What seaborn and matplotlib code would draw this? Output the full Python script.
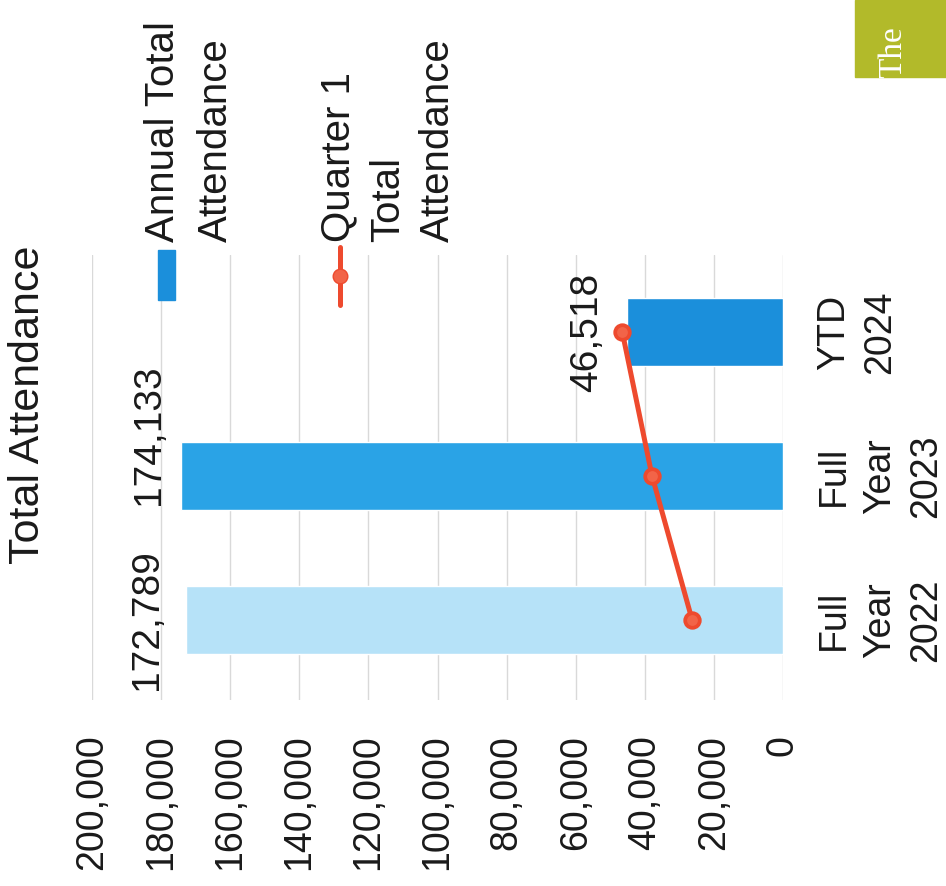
import matplotlib
matplotlib.use("Agg")
import matplotlib.pyplot as plt
import seaborn as sns
import pandas as pd
from matplotlib.patches import Rectangle
from matplotlib.lines import Line2D

# ---- data ----
categories = ["YTD 2024", "Full Year 2023", "Full Year 2022"]
tick_labels = ["YTD\n2024", "Full\nYear\n2023", "Full\nYear\n2022"]
annual_total = [45200, 174133, 172789]
q1_total = [46518, 37900, 26300]
bar_label_text = ["172,789", "174,133"]
line_label_text = "46,518"
x_ticks = [0, 20000, 40000, 60000, 80000, 100000, 120000, 140000, 160000, 180000, 200000]

bar_colors = {"YTD 2024": "#1B8FDB", "Full Year 2023": "#2AA3E6", "Full Year 2022": "#B6E2F8"}
red = "#EE4A2E"
txt = "#1A1A1A"
FS = 27

sns.set_theme(style="white")
plt.rcParams["font.family"] = ["Liberation Sans", "DejaVu Sans"]

W, H = 946, 886
fig = plt.figure(figsize=(W / 100, H / 100), dpi=100)
fig.patch.set_facecolor("white")
ax = fig.add_axes([92 / W, 1 - 700 / H, 691 / W, 445 / H])

df = pd.DataFrame({"cat": categories, "annual": annual_total, "q1": q1_total})

sns.barplot(data=df, x="annual", y="cat", order=categories, hue="cat",
            palette=bar_colors, legend=False, orient="h", width=0.47,
            saturation=1, ax=ax, zorder=2)
sns.pointplot(data=df, x="q1", y="cat", order=categories, orient="h",
              color=red, markers="o", linestyles="-", errorbar=None,
              markersize=10.5, linewidth=3.6, ax=ax)
for ln in ax.lines:
    ln.set_markerfacecolor("#F26448")
    ln.set_markeredgecolor(red)
    ln.set_zorder(4)

ax.set_xlim(200000, 0)
ax.set_ylim(2.556, -0.535)
ax.set_xticks(x_ticks)
ax.set_xticklabels([f"{v:,}" for v in x_ticks], rotation=90, fontsize=FS,
                   color=txt, va="top", ha="center")
ax.tick_params(axis="x", length=0, pad=25)
ax.yaxis.tick_right()
ax.set_yticks(range(len(categories)))
ax.set_yticklabels(tick_labels, rotation=90, fontsize=FS, color=txt,
                   va="center", ha="left", multialignment="center",
                   linespacing=1.36)
ax.tick_params(axis="y", length=0, pad=24)
ax.set_xlabel("")
ax.set_ylabel("")
for s in ax.spines.values():
    s.set_visible(False)
ax.grid(axis="x", color="#D9D9D9", linewidth=1)
ax.grid(axis="y", visible=False)
ax.set_axisbelow(True)

# data labels
ax.annotate(bar_label_text[0], xy=(annual_total[2], 2), xytext=(-28, 0),
            textcoords="offset points", rotation=90, ha="center", va="center",
            fontsize=FS + 1, color=txt)
ax.annotate(bar_label_text[1], xy=(annual_total[1], 1), xytext=(-23, 30),
            textcoords="offset points", rotation=90, ha="center", va="center",
            fontsize=FS + 1, color=txt)
ax.annotate(line_label_text, xy=(q1_total[0], 0), xytext=(-25, 0),
            textcoords="offset points", rotation=90, ha="center", va="center",
            fontsize=FS + 1, color=txt)

# title
fig.text(8 / W, 1 - 405 / H, "Total Attendance", rotation=90, ha="left",
         va="center", fontsize=31, color=txt)

# legend (rotated, drawn manually)
fig.add_artist(Rectangle((158 / W, 1 - 300 / H), 17 / W, 50 / H,
                         transform=fig.transFigure, color="#1B8FDB"))
fig.add_artist(Line2D([340 / W, 340 / W], [1 - 305 / H, 1 - 247 / H],
                      transform=fig.transFigure, color=red, lw=3.6))
fig.add_artist(Line2D([340 / W], [1 - 276 / H], transform=fig.transFigure,
                      color=red, marker="o", markersize=10.5,
                      markerfacecolor="#F26448"))
fig.text(144 / W, 1 - 242 / H, "Annual Total\nAttendance", rotation=90,
         ha="left", va="bottom", multialignment="left", fontsize=29,
         color=txt, linespacing=1.5)
fig.text(319 / W, 1 - 242 / H, "Quarter 1\nTotal\nAttendance", rotation=90,
         ha="left", va="bottom", multialignment="left", fontsize=29,
         color=txt, linespacing=1.4)

# partial logo at top right
fig.add_artist(Rectangle((855 / W, 1 - 77 / H), 91 / W, 77 / H,
                         transform=fig.transFigure, color="#B2BA2A"))
fig.text(878 / W, 1 - 78 / H, "The", rotation=90, ha="left", va="bottom",
         fontsize=24, color="white", family=["Liberation Serif"])

fig.savefig("out.png", dpi=100, facecolor="white")
